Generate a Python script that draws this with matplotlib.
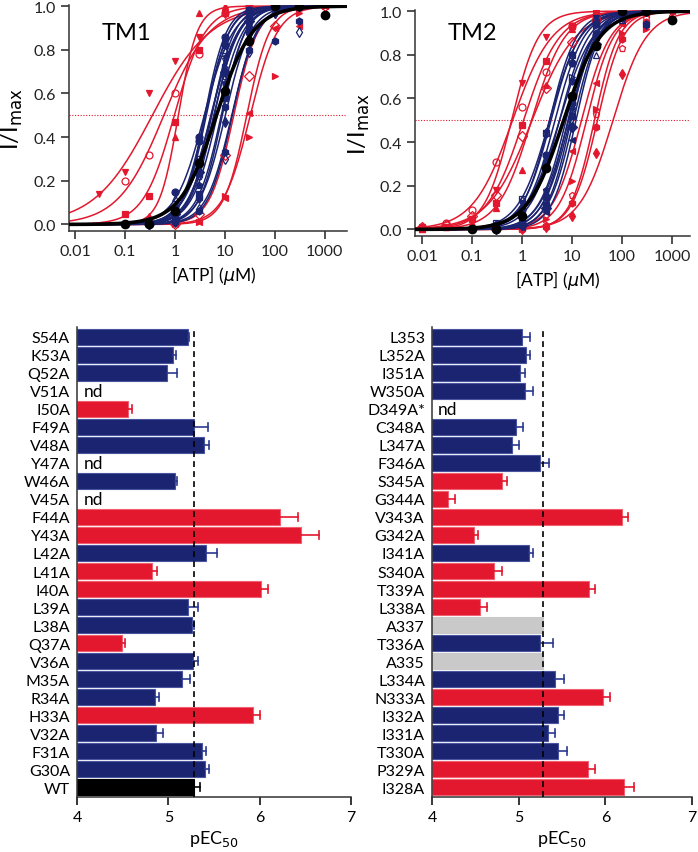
import numpy as np
import matplotlib.pyplot as plt
from matplotlib.ticker import NullLocator

plt.rcParams['font.family'] = ['Lato', 'DejaVu Sans']
plt.rcParams['mathtext.fontset'] = 'dejavusans'

## pEC50 bar data (nan = not determined)
tm1_names = ['S54A', 'K53A', 'Q52A', 'V51A', 'I50A', 'F49A', 'V48A', 'Y47A', 'W46A',
             'V45A', 'F44A', 'Y43A', 'L42A', 'L41A', 'I40A', 'L39A', 'L38A', 'Q37A',
             'V36A', 'M35A', 'R34A', 'H33A', 'V32A', 'F31A', 'G30A', 'WT']
tm1_pec50 = [5.21, 5.05, 4.99, np.nan, 4.56, 5.28, 5.39, np.nan, 5.07,
             np.nan, 6.22, 6.45, 5.41, 4.82, 6.01, 5.22, 5.26, 4.49,
             5.27, 5.15, 4.85, 5.93, 4.86, 5.37, 5.40, 5.28]
tm1_err = [0.02, 0.03, 0.11, np.nan, 0.04, 0.15, 0.06, np.nan, 0.02,
           np.nan, 0.20, 0.20, 0.12, 0.06, 0.08, 0.10, 0.02, 0.04,
           0.06, 0.09, 0.05, 0.07, 0.08, 0.04, 0.05, 0.07]
tm1_group = ['n', 'n', 'n', 'nd', 'r', 'n', 'n', 'nd', 'n',
             'nd', 'r', 'r', 'n', 'r', 'r', 'n', 'n', 'r',
             'n', 'n', 'n', 'r', 'n', 'n', 'n', 'wt']

tm2_names = ['L353', 'L352A', 'I351A', 'W350A', 'D349A*', 'C348A', 'L347A', 'F346A',
             'S345A', 'G344A', 'V343A', 'G342A', 'I341A', 'S340A', 'T339A', 'L338A',
             'A337', 'T336A', 'A335', 'L334A', 'N333A', 'I332A', 'I331A', 'T330A',
             'P329A', 'I328A']
tm2_pec50 = [5.04, 5.08, 5.02, 5.07, np.nan, 4.97, 4.92, 5.25,
             4.81, 4.18, 6.19, 4.49, 5.12, 4.71, 5.81, 4.55,
             5.28, 5.25, 5.28, 5.42, 5.97, 5.45, 5.34, 5.45,
             5.80, 6.21]
tm2_err = [0.09, 0.05, 0.05, 0.10, np.nan, 0.08, 0.08, 0.10,
           0.06, 0.08, 0.07, 0.04, 0.04, 0.10, 0.07, 0.08,
           np.nan, 0.15, np.nan, 0.10, 0.08, 0.07, 0.08, 0.11,
           0.08, 0.12]
tm2_group = ['n', 'n', 'n', 'n', 'nd', 'n', 'n', 'n',
             'r', 'r', 'r', 'r', 'n', 'r', 'r', 'r',
             'a', 'n', 'a', 'n', 'r', 'n', 'n', 'n',
             'r', 'r']

## Concentration-response data
conc_lo = [0.01, 0.03, 0.1, 0.3, 1, 3, 10, 30]
conc_mid = [0.3, 1, 3, 10, 30, 100, 300]
conc_hi = [1, 3, 10, 30, 100, 300, 1000]

wt_conc = [0.1, 0.3, 1, 3, 10, 30, 100, 300, 1000]
wt_resp = [0.0, 0.0, 0.06, 0.28, 0.61, 0.84, 1.0, 1.0, 0.96]
wt_ec50 = 6.8
wt_hill = 1.2

tm1_fit_names = ['S54A', 'K53A', 'Q52A', 'F49A', 'V48A', 'W46A', 'L42A', 'L39A', 'L38A',
                 'V36A', 'M35A', 'R34A', 'V32A', 'F31A', 'G30A',
                 'Y43A', 'F44A', 'I40A', 'H33A', 'L41A', 'I50A', 'Q37A']
tm1_fit_hill = [1.8, 1.9, 1.7, 1.6, 1.8, 1.8, 1.5, 1.7, 1.9,
                1.6, 1.7, 1.8, 1.7, 1.9, 2.0,
                0.75, 0.95, 1.4, 2.3, 1.8, 1.9, 1.6]
tm1_fit_conc = ['mid'] * 15 + ['lo', 'lo', 'lo', 'lo', 'hi', 'hi', 'hi']
tm1_fit_resp = [
    [0.0, 0.05, 0.22, 0.68, 0.95, 0.99, 1.0],
    [0.0, 0.02, 0.12, 0.54, 0.90, 0.99, 1.0],
    [0.0, 0.02, 0.12, 0.47, 0.87, 0.97, 1.0],
    [0.01, 0.07, 0.30, 0.75, 0.93, 1.0, 1.0],
    [0.0, 0.08, 0.38, 0.82, 0.97, 1.0, 1.0],
    [0.0, 0.02, 0.14, 0.58, 0.89, 0.99, 1.0],
    [0.02, 0.12, 0.40, 0.80, 0.95, 0.99, 1.0],
    [0.0, 0.05, 0.24, 0.70, 0.93, 0.99, 1.0],
    [0.0, 0.04, 0.23, 0.77, 0.96, 1.0, 1.0],
    [0.01, 0.06, 0.27, 0.72, 0.94, 0.99, 1.0],
    [0.0, 0.04, 0.18, 0.65, 0.92, 0.99, 1.0],
    [0.0, 0.01, 0.06, 0.33, 0.80, 0.84, 0.93],
    [0.0, 0.01, 0.07, 0.30, 0.79, 0.97, 0.88],
    [0.0, 0.06, 0.38, 0.83, 0.98, 1.0, 1.0],
    [0.0, 0.15, 0.40, 0.86, 0.98, 1.0, 1.0],
    [np.nan, 0.14, 0.24, 0.60, 0.75, 0.86, 0.96, 1.0],
    [np.nan, np.nan, 0.20, 0.32, 0.60, 0.78, 0.97, 1.0],
    [np.nan, np.nan, 0.05, 0.13, 0.47, 0.80, 0.97, 1.0],
    [np.nan, np.nan, 0.0, 0.04, 0.40, 0.97, 1.0, 1.0],
    [0.0, 0.05, 0.32, 0.68, 0.91, 1.0, 1.0],
    [0.0, 0.01, 0.12, 0.51, 0.90, 0.91, 1.0],
    [0.0, 0.01, 0.13, 0.40, 0.68, 0.97, 1.0],
]

tm2_fit_names = ['L353', 'L352A', 'I351A', 'W350A', 'C348A', 'L347A', 'F346A', 'I341A',
                 'T336A', 'L334A', 'I332A', 'I331A', 'T330A',
                 'I328A', 'V343A', 'N333A', 'T339A', 'P329A',
                 'S345A', 'S340A', 'L338A', 'G342A', 'G344A']
tm2_fit_hill = [1.6, 1.7, 1.8, 1.5, 1.7, 1.8, 1.5, 1.6,
                1.3, 1.5, 1.6, 1.5, 1.4,
                1.6, 1.1, 1.2, 1.3, 1.0,
                1.5, 1.6, 1.8, 1.7, 1.3]
tm2_fit_conc = ['mid'] * 13 + ['lo'] * 5 + ['hi'] * 5
tm2_fit_resp = [
    [0.0, 0.03, 0.14, 0.54, 0.87, 0.97, 0.93],
    [0.0, 0.03, 0.15, 0.58, 0.89, 0.99, 1.0],
    [0.0, 0.02, 0.11, 0.52, 0.88, 0.98, 1.0],
    [0.0, 0.04, 0.17, 0.57, 0.80, 0.96, 0.94],
    [0.0, 0.02, 0.10, 0.47, 0.85, 0.98, 1.0],
    [0.0, 0.01, 0.08, 0.41, 0.84, 0.98, 1.0],
    [0.01, 0.07, 0.28, 0.70, 0.93, 0.99, 1.0],
    [0.0, 0.04, 0.18, 0.61, 0.89, 0.98, 1.0],
    [0.02, 0.10, 0.31, 0.68, 0.90, 0.97, 0.94],
    [0.02, 0.13, 0.44, 0.80, 0.96, 1.0, 1.0],
    [0.02, 0.12, 0.44, 0.80, 0.97, 1.0, 1.0],
    [0.01, 0.09, 0.34, 0.76, 0.94, 0.99, 1.0],
    [0.03, 0.14, 0.44, 0.80, 0.95, 0.99, 1.0],
    [0.01, 0.01, 0.05, 0.18, 0.67, 0.88, 0.93, 1.0],
    [0.01, 0.03, 0.09, 0.31, 0.56, 0.72, 0.93, 0.97],
    [0.0, 0.01, 0.05, 0.12, 0.48, 0.77, 0.93, 0.99],
    [0.0, 0.01, 0.03, 0.10, 0.27, 0.66, 0.92, 0.98],
    [0.01, 0.02, 0.06, 0.16, 0.43, 0.65, 0.86, 0.96],
    [0.02, 0.08, 0.36, 0.67, 0.94, 0.99, 1.0],
    [0.0, 0.05, 0.22, 0.55, 0.90, 0.92, 0.97],
    [0.0, 0.02, 0.16, 0.53, 0.83, 0.97, 1.0],
    [0.0, 0.01, 0.12, 0.47, 0.87, 0.95, 0.96],
    [0.0, 0.01, 0.06, 0.35, 0.71, 0.93, 1.0],
]

## Styles
NAVY = '#1b2471'
RED = '#e3172d'
GREY = '#c9c9c9'
bar_colors = {'n': NAVY, 'r': RED, 'wt': 'black', 'a': GREY}
err_colors = {'n': '#2b3990', 'r': RED, 'wt': 'black'}
conc_sets = {'lo': conc_lo, 'mid': conc_mid, 'hi': conc_hi}
marker_cycle = ['v', 'o', 's', '^', 'D', '<', '>', 'p', 'h', 'd']

fig = plt.figure(figsize=(6.98, 8.53), dpi=100)

## Hill curves
def hill(c, ec50, n):
    return 1.0 / (1.0 + (ec50 / c) ** n)

xs = np.logspace(-2.3, 3.6, 400)

def curve_panel(ax, names, pec50, groups_list, fit_names, fit_hill, fit_conc, fit_resp,
                title, title_x, ylab_x):
    groups = dict(zip(names, groups_list))
    lookup = dict(zip(names, pec50))
    # red first, then blue, then WT on top
    order = [i for i in range(len(fit_names)) if groups[fit_names[i]] == 'r'] + \
            [i for i in range(len(fit_names)) if groups[fit_names[i]] == 'n']
    for k, i in enumerate(order):
        nm = fit_names[i]
        col = RED if groups[nm] == 'r' else NAVY
        ec50 = 10 ** (6 - lookup[nm])
        ax.plot(xs, hill(xs, ec50, fit_hill[i]), color=col, lw=1.1, zorder=2)
        mk = marker_cycle[k % len(marker_cycle)]
        face = col if k % 3 != 1 else 'none'
        ax.plot(conc_sets[fit_conc[i]], fit_resp[i], ls='none', marker=mk, ms=5,
                mfc=face, mec=col, mew=0.9, zorder=3)
    ax.plot(xs, hill(xs, wt_ec50, wt_hill), color='black', lw=2.6, zorder=4)
    ax.plot(wt_conc, wt_resp, 'o', color='black', ms=6, zorder=5)
    ax.axhline(0.5, color=RED, lw=0.8, ls=(0, (1, 1.5)), zorder=1)

    ax.set_xscale('log')
    ax.xaxis.set_minor_locator(NullLocator())
    ax.set_xticks([0.01, 0.1, 1, 10, 100, 1000])
    ax.set_xticklabels(['0.01', '0.1', '1', '10', '100', '1000'])
    ax.set_yticks([0.0, 0.2, 0.4, 0.6, 0.8, 1.0])
    ax.set_yticklabels(['0.0', '0.2', '0.4', '0.6', '0.8', '1.0'])
    ax.set_ylim(-0.03, 1.005)
    for s in ['top', 'right']:
        ax.spines[s].set_visible(False)
    for s in ['left', 'bottom']:
        ax.spines[s].set_linewidth(1.1)
        ax.spines[s].set_color('#333333')
    ax.tick_params(direction='out', length=6, width=1.1, labelsize=11.5, colors='#222222')
    ax.set_xlabel(r'[ATP] ($\mu$M)', fontsize=12.5)
    ax.xaxis.set_label_coords(0.52, -0.14)
    ax.set_ylabel(r'I/I$_{\rm max}$', fontsize=17)
    ax.yaxis.set_label_coords(ylab_x, 0.5)
    fig.text(title_x, 1 - 40 / 853, title, fontsize=17, va='baseline')


ax1 = fig.add_axes([69 / 698, 1 - 232 / 853, 278 / 698, 226 / 853])
curve_panel(ax1, tm1_names, tm1_pec50, tm1_group, tm1_fit_names, tm1_fit_hill,
            tm1_fit_conc, tm1_fit_resp, 'TM1', 102 / 698, -0.16)
ax1.set_xlim(0.0076, 2800)

ax2 = fig.add_axes([415 / 698, 1 - 237 / 853, 275 / 698, 226 / 853])
curve_panel(ax2, tm2_names, tm2_pec50, tm2_group, tm2_fit_names, tm2_fit_hill,
            tm2_fit_conc, tm2_fit_resp, 'TM2', 448 / 698, -0.155)
ax2.set_xlim(0.0072, 2300)


## pEC50 bar charts
def bar_panel(ax, names, vals, errs, groups):
    n = len(names)
    ys = np.arange(n)[::-1]
    for y, v, e, g in zip(ys, vals, errs, groups):
        if g == 'nd':
            ax.text(4.07, y, 'nd', fontsize=12.5, va='center', ha='left')
            continue
        col = bar_colors[g]
        edge = '#4a55a0' if g == 'n' else ('#f06070' if g == 'r' else col)
        ax.barh(y, v - 4, left=4, height=0.88, color=col, edgecolor=edge, lw=0.8, zorder=2)
        if not np.isnan(e):
            ec = err_colors[g]
            ax.plot([v, v + e], [y, y], color=ec, lw=1.2, zorder=3)
            ax.plot([v + e, v + e], [y - 0.2, y + 0.2], color=ec, lw=1.2, zorder=3)
    ax.axvline(tm1_pec50[-1], color='black', lw=1.2, ls=(0, (3.5, 2.5)), zorder=4)
    ax.set_yticks(ys)
    ax.set_yticklabels(names)
    ax.set_ylim(-0.55, n - 0.45)
    ax.set_xlim(4, 7)
    ax.set_xticks([4, 5, 6, 7])
    for s in ['top', 'right']:
        ax.spines[s].set_visible(False)
    for s in ['left', 'bottom']:
        ax.spines[s].set_linewidth(1.1)
        ax.spines[s].set_color('#333333')
    ax.tick_params(axis='y', length=0, pad=5, labelsize=11.5)
    ax.tick_params(axis='x', direction='out', length=6, width=1.1, labelsize=11.5)
    ax.set_xlabel(r'pEC$_{50}$', fontsize=13)
    ax.xaxis.set_label_coords(0.5, -0.065)


ax3 = fig.add_axes([77 / 698, 1 - 798 / 853, 274 / 698, 470 / 853])
bar_panel(ax3, tm1_names, tm1_pec50, tm1_err, tm1_group)

ax4 = fig.add_axes([432 / 698, 1 - 798 / 853, 260 / 698, 470 / 853])
bar_panel(ax4, tm2_names, tm2_pec50, tm2_err, tm2_group)

fig.savefig('out.png', dpi=100)
